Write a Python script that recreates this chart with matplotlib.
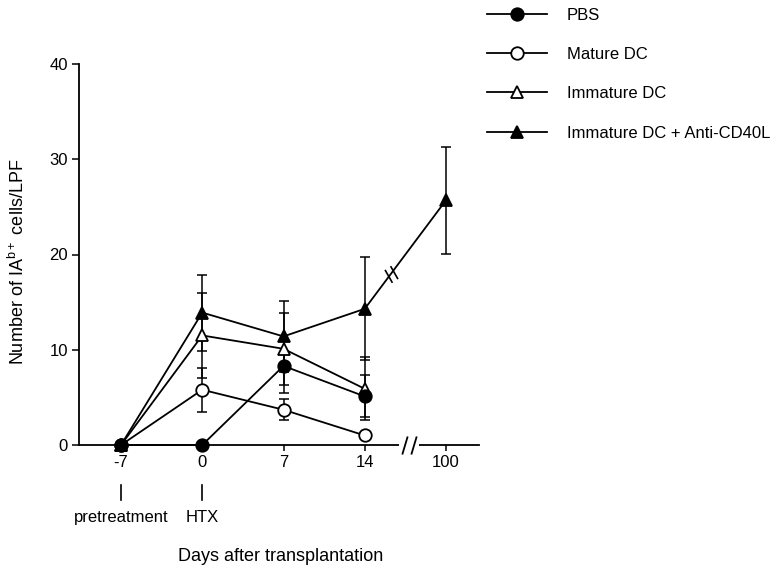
import numpy as np
import matplotlib
matplotlib.use('Agg')
import matplotlib.pyplot as plt
from matplotlib.lines import Line2D
from matplotlib.path import Path

plt.rcParams['font.family'] = ['Liberation Sans', 'DejaVu Sans']
plt.rcParams['mathtext.fontset'] = 'custom'
plt.rcParams['mathtext.rm'] = 'Liberation Sans'

# data
days = ['-7', '0', '7', '14', '100']

pbs = [0, 0, 8.3, 5.1]
pbs_err = [0, 0, 2.8, 2.2]

mature = [0, 5.8, 3.7, 1.0]
mature_err = [0, 2.3, 1.1, 0]

immature = [0, 11.5, 10.1, 5.9]
immature_err = [0, 4.5, 3.8, 3.3]

cd40l = [0, 13.9, 11.4, 14.3, 25.7]
cd40l_err = [0, 4.0, 3.7, 5.4, 5.6]

labels = ['PBS', 'Mature DC', 'Immature DC', 'Immature DC + Anti-CD40L']

fig = plt.figure(figsize=(7.82, 5.69), dpi=100)
ax = fig.add_axes([79/782, 124/569, 400/782, 381/569])

lw = 1.3
ms = 9
l_size = 12

series = [
    (pbs, pbs_err, 'o', 'black'),
    (mature, mature_err, 'o', 'white'),
    (immature, immature_err, '^', 'white'),
    (cd40l, cd40l_err, '^', 'black'),
]

# PBS drawn last so the filled markers sit on top
order = [1, 2, 3, 0]
for k, idx in enumerate(order):
    vals, err, mk, fc = series[idx]
    x = np.arange(len(vals))
    ax.errorbar(x, vals, yerr=err, fmt='none', ecolor='black', elinewidth=1.1,
                capsize=3.5, capthick=1.1, zorder=2, clip_on=False)
    ax.plot(x, vals, color='black', linewidth=lw, marker=mk, markersize=ms,
            markerfacecolor=fc, markeredgecolor='black', markeredgewidth=1.3,
            zorder=3 + k * 0.1, clip_on=False)

ax.set_xlim(-0.517, 4.406)
ax.set_ylim(0, 40)
ax.set_xticks(np.arange(len(days)))
ax.set_xticklabels(days)
ax.set_yticks([0, 10, 20, 30, 40])
ax.tick_params(axis='both', labelsize=l_size, width=1.1, direction='out')
ax.tick_params(axis='y', length=5, pad=3)
ax.tick_params(axis='x', length=4, pad=3)

for s in ['top', 'right']:
    ax.spines[s].set_visible(False)
for s in ['left', 'bottom']:
    ax.spines[s].set_linewidth(1.3)

# break marks
slash = Path([(-0.8, -1), (-0.2, 1), (0.2, -1), (0.8, 1)],
             [Path.MOVETO, Path.LINETO, Path.MOVETO, Path.LINETO])
gap = Path([(-0.45, 0), (0.45, 0)], [Path.MOVETO, Path.LINETO])
ax.plot([3.55], [0], marker=gap, markersize=14, markeredgecolor='white',
        markeredgewidth=3, clip_on=False, zorder=4)
ax.plot([3.55], [0], marker=slash, markersize=13, markeredgecolor='black',
        markeredgewidth=1.3, clip_on=False, zorder=5)

seg_x = 3 + 0.32
seg_y = cd40l[3] + 0.32 * (cd40l[4] - cd40l[3])
line_slash = Path([(-0.7, 0.5), (0.1, -0.9), (-0.1, 0.9), (0.7, -0.5)],
                  [Path.MOVETO, Path.LINETO, Path.MOVETO, Path.LINETO])
ax.plot([seg_x], [seg_y], marker=line_slash, markersize=12,
        markeredgecolor='black', markeredgewidth=1.2, zorder=5)

# pretreatment / HTX markers
for i, txt in [(0, 'pretreatment'), (1, 'HTX')]:
    ax.plot([i, i], [-0.105, -0.144], color='black', linewidth=1.2,
            transform=ax.get_xaxis_transform(), clip_on=False)
    ax.text(i, -0.189, txt, fontsize=l_size, ha='center', va='center',
            transform=ax.get_xaxis_transform())

ax.text(0.505, -0.293, 'Days after transplantation', fontsize=13,
        ha='center', va='center', transform=ax.transAxes)
fig.text(18/782, 1 - 262/569, r'Number of IA$^{\mathrm{b+}}$ cells/LPF', fontsize=13,
         rotation=90, ha='center', va='center')

# legend
handles = []
for vals, err, mk, fc in series:
    handles.append(Line2D([], [], color='black', linewidth=lw, marker=mk,
                          markersize=ms, markerfacecolor=fc,
                          markeredgecolor='black', markeredgewidth=1.3))
fig.legend(handles, labels, loc='upper left', bbox_to_anchor=(487/782, 1 - 8/569),
           frameon=False, fontsize=l_size, handlelength=3.6, handletextpad=1.2,
           labelspacing=1.45, borderpad=0, borderaxespad=0)

fig.savefig('out.png', dpi=100)
